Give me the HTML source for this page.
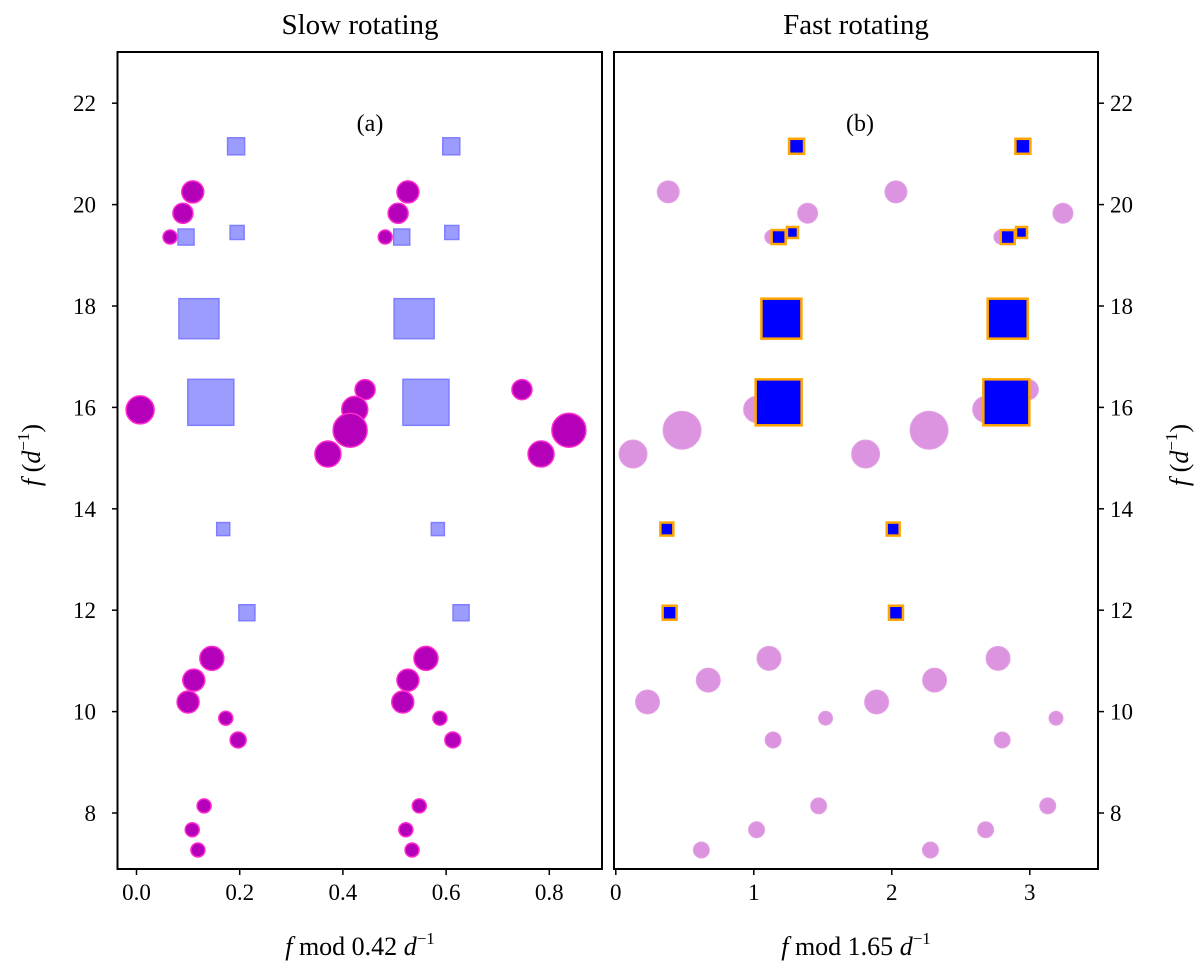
<!DOCTYPE html>
<html><head><meta charset="utf-8"><style>
html,body{margin:0;padding:0;background:#fff;}
svg{display:block;font-family:"Liberation Serif",serif;}
</style></head><body>
<svg id="chart" width="1200" height="973" viewBox="0 0 1200 973" xmlns="http://www.w3.org/2000/svg">
<text x="360" y="34" font-size="29" text-anchor="middle">Slow rotating</text>
<text x="856" y="34" font-size="29" text-anchor="middle">Fast rotating</text>
<g id="marks"></g>
<rect x="117.5" y="52" width="484.5" height="817" fill="none" stroke="#000" stroke-width="2"/>
<rect x="614" y="52" width="484" height="817" fill="none" stroke="#000" stroke-width="2"/>
<text x="370" y="131" font-size="24" text-anchor="middle">(a)</text>
<text x="860" y="131" font-size="24" text-anchor="middle">(b)</text>
<g id="axes"></g>
<text x="360" y="955" font-size="26" text-anchor="middle"><tspan font-style="italic">f</tspan> mod 0.42 <tspan font-style="italic">d</tspan><tspan font-size="17" dy="-11">−1</tspan></text>
<text x="856" y="955" font-size="26" text-anchor="middle"><tspan font-style="italic">f</tspan> mod 1.65 <tspan font-style="italic">d</tspan><tspan font-size="17" dy="-11">−1</tspan></text>
<text transform="translate(40,455) rotate(-90)" font-size="26" text-anchor="middle"><tspan font-style="italic">f</tspan> (<tspan font-style="italic">d</tspan><tspan font-size="17" dy="-11">−1</tspan><tspan dy="11">)</tspan></text>
<text transform="translate(1188,455) rotate(-90)" font-size="26" text-anchor="middle"><tspan font-style="italic">f</tspan> (<tspan font-style="italic">d</tspan><tspan font-size="17" dy="-11">−1</tspan><tspan dy="11">)</tspan></text>
</svg>
<script>
const yTicks=[8,10,12,14,16,18,20,22];
const leftXTicks=[0,0.2,0.4,0.6,0.8];
const leftXTickLabels=["0.0","0.2","0.4","0.6","0.8"];
const rightXTicks=[0,1,2,3];
const rightXTickLabels=["0","1","2","3"];
// slow rotating circles
const lcX=[0.109,0.090,0.065,0.526,0.507,0.482,0.007,0.443,0.423,0.414,0.371,0.747,0.838,0.784,0.146,0.111,0.100,0.173,0.197,0.131,0.108,0.119,0.561,0.526,0.516,0.588,0.613,0.548,0.522,0.534];
const lcF=[20.25,19.83,19.36,20.25,19.83,19.36,15.95,16.35,15.96,15.55,15.08,16.35,15.55,15.08,11.05,10.62,10.19,9.87,9.44,8.14,7.67,7.27,11.05,10.62,10.19,9.87,9.44,8.14,7.67,7.27];
const lcR=[11,10,7,11,10,7,14,10,13,17,13,10,17,13,12,11,11,7,8,7,7,7,12,11,11,7,8,7,7,7];
// slow rotating squares
const lsX=[0.193,0.610,0.195,0.611,0.096,0.514,0.121,0.538,0.144,0.561,0.168,0.584,0.214,0.629];
const lsF=[21.15,21.15,19.45,19.45,19.36,19.36,17.75,17.75,16.1,16.1,13.6,13.6,11.95,11.95];
const lsS=[17,17,14,14,16,16,40,40,46,46,13,13,16,16];
// fast rotating circles
const rcX=[0.38,2.03,1.39,3.24,1.13,2.79,0.125,1.81,0.48,2.27,1.02,2.68,1.23,2.99,1.11,2.77,0.67,2.31,0.23,1.89,1.52,3.19,1.14,2.80,1.47,3.13,1.02,2.68,0.62,2.28];
const rcF=[20.25,20.25,19.83,19.83,19.36,19.36,15.08,15.08,15.55,15.55,15.96,15.96,16.35,16.35,11.05,11.05,10.62,10.62,10.19,10.19,9.87,9.87,9.44,9.44,8.14,8.14,7.67,7.67,7.27,7.27];
const rcR=[11,11,10,10,7,7,14,14,19,19,13,13,10,10,12,12,12,12,12,12,7,7,8,8,8,8,8,8,8,8];
// fast rotating squares
const rsX=[1.31,2.95,1.28,2.94,1.18,2.84,1.20,2.84,1.18,2.83,0.37,2.01,0.39,2.03];
const rsF=[21.15,21.15,19.45,19.45,19.36,19.36,17.75,17.75,16.1,16.1,13.6,13.6,11.95,11.95];
const rsS=[15,15,11,11,14,14,40,40,46,46,13,13,14,14];

const NS="http://www.w3.org/2000/svg";
const yPx=f=>813-(f-8)*50.7;
const lxPx=v=>136.5+v*516;
const rxPx=v=>615.8+v*138;
const marks=document.getElementById('marks');
const axes=document.getElementById('axes');
function mk(tag,attrs,parent){const e=document.createElementNS(NS,tag);for(const k in attrs)e.setAttribute(k,attrs[k]);parent.appendChild(e);return e;}

lcX.forEach((v,i)=>{
  const c=mk('circle',{cx:lxPx(v),cy:yPx(lcF[i]),r:lcR[i],fill:'#b400b8',stroke:'#ff2ad0','stroke-width':1.5},marks);
  
  
});
lsX.forEach((v,i)=>{
  const s=lsS[i];
  const r=mk('rect',{x:lxPx(v)-s/2,y:yPx(lsF[i])-s/2,width:s,height:s,fill:'#9c9cff',stroke:'#7e7eff','stroke-width':1.5},marks);
  
  
});
rcX.forEach((v,i)=>{
  const c=mk('circle',{cx:rxPx(v),cy:yPx(rcF[i]),r:rcR[i],fill:'#dc94e0',stroke:'#e2a2e4','stroke-width':1},marks);
  
  
});
rsX.forEach((v,i)=>{
  const s=rsS[i];
  const r=mk('rect',{x:rxPx(v)-s/2,y:yPx(rsF[i])-s/2,width:s,height:s,fill:'#0000ff',stroke:'#ffa500','stroke-width':2.5},marks);
  
  
});
yTicks.forEach(t=>{
  const y=yPx(t);
  mk('line',{x1:112,x2:117.5,y1:y,y2:y,stroke:'#000','stroke-width':1.5},axes);
  const a=mk('text',{x:96,y:y+8,'font-size':23,'text-anchor':'end'},axes);a.textContent=t;
  
  
  mk('line',{x1:1098,x2:1104,y1:y,y2:y,stroke:'#000','stroke-width':1.5},axes);
  const b=mk('text',{x:1110,y:y+8,'font-size':23,'text-anchor':'start'},axes);b.textContent=t;
  
  
});
leftXTicks.forEach((t,i)=>{
  const x=lxPx(t);
  mk('line',{x1:x,x2:x,y1:869,y2:875,stroke:'#000','stroke-width':1.5},axes);
  const a=mk('text',{x:x,y:900,'font-size':23,'text-anchor':'middle'},axes);a.textContent=leftXTickLabels[i];
  
  
});
rightXTicks.forEach((t,i)=>{
  const x=rxPx(t);
  mk('line',{x1:x,x2:x,y1:869,y2:875,stroke:'#000','stroke-width':1.5},axes);
  const a=mk('text',{x:x,y:900,'font-size':23,'text-anchor':'middle'},axes);a.textContent=rightXTickLabels[i];
  
  
});
</script>
</body></html>
